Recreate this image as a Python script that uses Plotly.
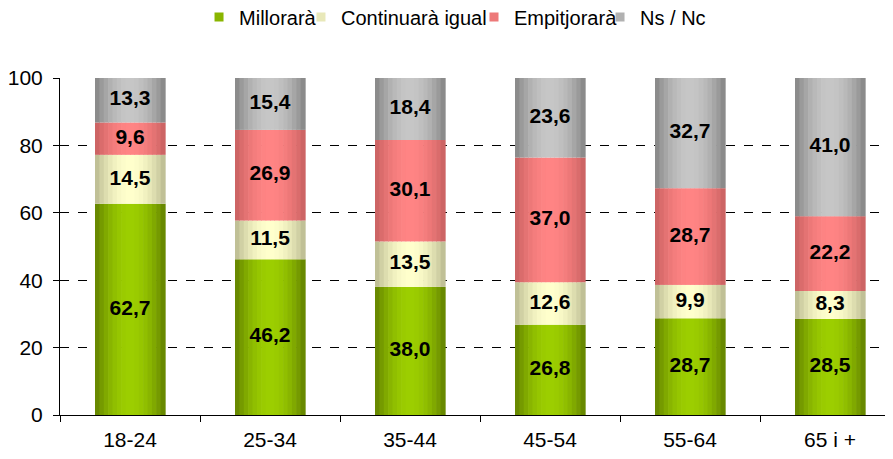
import math
import plotly.graph_objects as go

categories = ["18-24", "25-34", "35-44", "45-54", "55-64", "65 i +"]
millorara = [62.7, 46.2, 38.0, 26.8, 28.7, 28.5]
continuara = [14.5, 11.5, 13.5, 12.6, 9.9, 8.3]
empitjorara = [9.6, 26.9, 30.1, 37.0, 28.7, 22.2]
nsnc = [13.3, 15.4, 18.4, 23.6, 32.7, 41.0]
series_names = ["Millorarà", "Continuarà igual", "Empitjorarà", "Ns / Nc"]

series_values = [millorara, continuara, empitjorara, nsnc]
# (edge colour, centre colour) for a cylindrical shading
series_colors = [
    ((0x5E, 0x7C, 0x00), (0x9C, 0xCE, 0x00)),
    ((0xB4, 0xB4, 0x8C), (0xFF, 0xFF, 0xCC)),
    ((0xC4, 0x5E, 0x5E), (0xFF, 0x84, 0x84)),
    ((0x80, 0x80, 0x80), (0xC6, 0xC6, 0xC6)),
]
legend_ids = ["legend", "legend2", "legend3", "legend4"]
legend_x = [0.1669, 0.2893, 0.4970, 0.6483]

BAR_W = 0.5
N = 16
FONT = "Arial, Liberation Sans, sans-serif"


def mix(a, b, t):
    return "rgb(%d,%d,%d)" % tuple(round(a[i] + (b[i] - a[i]) * t) for i in range(3))


fig = go.Figure()
bases = [0.0] * len(categories)
label_x, label_y, label_t = [], [], []
for name, vals, (edge, centre), lid in zip(series_names, series_values, series_colors, legend_ids):
    sw = BAR_W / N
    for k in range(N):
        t = (k + 0.5) / N
        shade = math.sin(math.pi * t) ** 0.8
        fig.add_trace(go.Bar(
            x=categories, y=vals, base=list(bases),
            width=sw * 1.15, offset=-BAR_W / 2 + k * sw,
            marker=dict(color=mix(edge, centre, shade), line=dict(width=0)),
            showlegend=False, hoverinfo="skip",
        ))
    # legend entry
    fig.add_trace(go.Scatter(
        x=[None], y=[None], name=name, legend=lid, mode="markers",
        marker=dict(symbol="square", size=9, color=mix(edge, centre, 0.7),
                    line=dict(width=0)),
        showlegend=True,
    ))
    for i, v in enumerate(vals):
        label_x.append(categories[i])
        label_y.append(bases[i] + v / 2)
        label_t.append(f"{v:.1f}".replace(".", ","))
    bases = [b + v for b, v in zip(bases, vals)]

fig.add_trace(go.Scatter(
    x=label_x, y=label_y, text=label_t, mode="text", showlegend=False,
    textfont=dict(family=FONT, size=21, color="black", weight="bold"),
    hoverinfo="skip",
))

legend_style = dict(orientation="h", xanchor="left", y=0.98, yref="container",
                    yanchor="middle", font=dict(size=20), itemwidth=30,
                    bgcolor="rgba(0,0,0,0)", borderwidth=0)
layout_legends = {lid: dict(x=lx, **legend_style) for lid, lx in zip(legend_ids, legend_x)}

fig.update_layout(
    barmode="overlay",
    width=885, height=451,
    margin=dict(l=52, r=0, t=70, b=44),
    plot_bgcolor="white", paper_bgcolor="white",
    font=dict(family=FONT, size=20, color="black"),
    xaxis=dict(range=[-0.5, 5.45], showline=True, linecolor="black", linewidth=1,
               ticks="outside", tickson="boundaries", ticklen=6, tickcolor="black",
               showgrid=False, tickfont=dict(size=21), ticklabelstandoff=6),
    yaxis=dict(range=[0, 100], tickvals=[0, 20, 40, 60, 80, 100], showline=True,
               linecolor="black", linewidth=1, ticks="outside", ticklen=6,
               tickcolor="black", showgrid=True, gridcolor="black", griddash="dash",
               gridwidth=1, zeroline=False, tickfont=dict(size=21),
               ticklabelstandoff=6),
    **layout_legends,
)

fig.write_html("out.html")
